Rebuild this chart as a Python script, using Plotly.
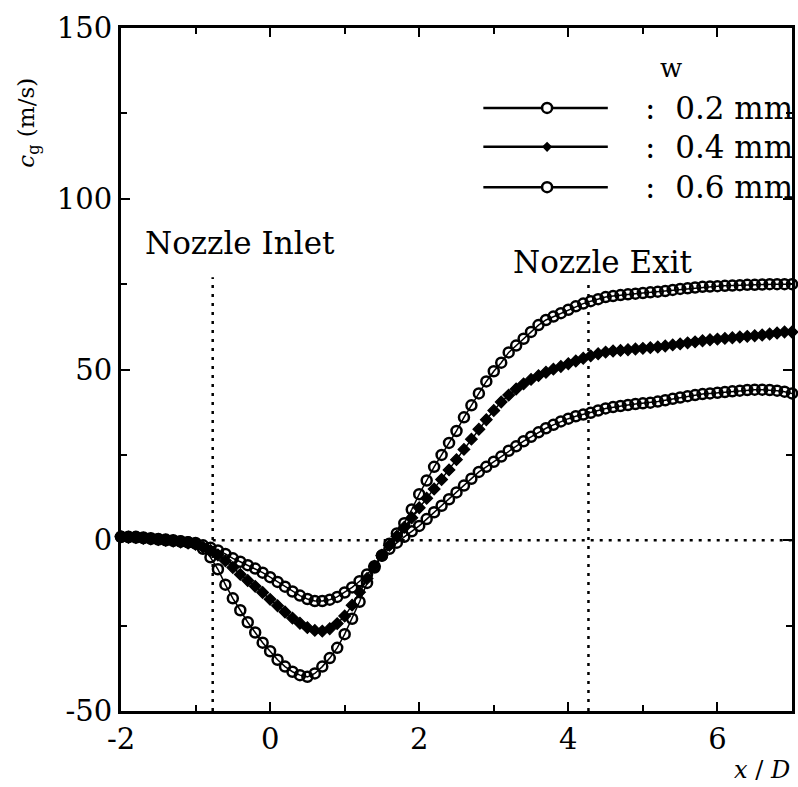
import numpy as np
import plotly.graph_objects as go

# ---------------- data ----------------
x_over_D = [round(v, 1) for v in np.arange(-2.0, 7.001, 0.1)]

w_labels = ["0.2 mm", "0.4 mm", "0.6 mm"]

cg_06 = [1.0, 1.0, 1.0, 0.8, 0.6, 0.4, 0.2, 0.0, -0.3, -0.6,
         -1.0, -2.5, -5.0, -8.5, -13.0, -17.0, -20.5, -24.0, -27.0, -30.0,
         -32.5, -35.0, -37.0, -38.5, -39.5, -40.0, -39.0, -37.0, -34.5, -31.5,
         -27.5, -23.0, -18.0, -12.5, -8.0, -4.5, -1.0, 2.0, 5.0, 9.0,
         13.5, 17.5, 21.5, 25.0, 28.5, 32.0, 36.0, 39.5, 43.0, 46.5,
         49.5, 52.0, 55.0, 57.0, 59.0, 61.0, 63.0, 64.5, 65.5, 66.5,
         67.5, 68.5, 69.3, 70.0, 70.6, 71.2, 71.5, 71.8, 72.0, 72.2,
         72.4, 72.6, 72.8, 73.0, 73.3, 73.6, 73.8, 74.0, 74.2, 74.3,
         74.4, 74.5, 74.6, 74.7, 74.8, 74.8, 74.9, 75.0, 75.0, 75.0,
         75.0]

cg_04 = [1.0, 0.9, 0.8, 0.6, 0.4, 0.2, 0.0, -0.2, -0.5, -0.8,
         -1.2, -2.0, -3.0, -4.3, -6.0, -8.0, -10.0, -11.8, -13.5, -15.3,
         -17.3, -19.2, -21.0, -22.8, -24.3, -25.6, -26.4, -26.6, -25.9, -24.4,
         -22.2, -19.0, -15.2, -11.2, -7.6, -4.4, -1.5, 1.2, 3.8, 6.6,
         9.5, 12.3, 15.0, 17.8, 20.6, 23.6, 26.6, 29.6, 32.5, 35.3,
         38.0, 40.5, 42.5, 44.3, 45.8, 47.1, 48.2, 49.2, 50.1, 50.9,
         51.7, 52.5, 53.3, 54.0, 54.6, 55.1, 55.4, 55.6, 55.8, 56.0,
         56.2, 56.4, 56.6, 56.9, 57.2, 57.5, 57.8, 58.1, 58.4, 58.7,
         58.9, 59.1, 59.3, 59.5, 59.7, 59.9, 60.1, 60.4, 60.7, 61.0,
         61.0]

cg_02 = [1.0, 0.9, 0.8, 0.6, 0.4, 0.2, 0.0, -0.2, -0.4, -0.6,
         -0.8, -1.5, -2.2, -3.0, -4.0, -5.3, -6.3, -7.3, -8.3, -9.5,
         -10.8, -12.2, -13.6, -15.0, -16.2, -17.2, -17.8, -17.8, -17.4, -16.6,
         -15.3, -13.8, -12.0, -10.0, -7.6, -4.5, -2.5, -0.7, 1.0, 2.6,
         4.2, 6.2, 8.2, 10.1, 12.0, 14.0, 16.0, 18.0, 20.0, 21.5,
         23.0, 24.5, 26.2, 27.5, 29.0, 30.3, 31.6, 32.8, 33.8, 34.8,
         35.6, 36.3, 36.8, 37.3, 38.0, 38.6, 39.0, 39.3, 39.6, 39.9,
         40.1, 40.3, 40.6, 41.0, 41.4, 41.8, 42.2, 42.5, 42.8, 43.0,
         43.2, 43.4, 43.6, 43.8, 44.0, 44.1, 44.1, 44.0, 43.8, 43.5,
         43.0]

nozzle_inlet = -0.77
nozzle_exit = 4.27
x_ticks = [-2, 0, 2, 4, 6]
y_ticks = [-50, 0, 50, 100, 150]

# ---------------- figure ----------------
FONT = "DejaVu Serif"
fig = go.Figure()

series = [
    (cg_02, "circle-open", 10, 2.5),
    (cg_04, "diamond", 9, 1.2),
    (cg_06, "circle-open", 10, 2.5),
]
for (yv, sym, sz, lw), name in zip(series, w_labels):
    fig.add_trace(go.Scatter(
        x=x_over_D, y=yv, mode="lines+markers", name=name,
        line=dict(color="black", width=1.5),
        marker=dict(symbol=sym, size=sz, color="black",
                    line=dict(color="black", width=lw)),
        cliponaxis=False, showlegend=False, hoverinfo="skip"))

# reference dotted lines
dot = dict(color="black", width=2.5, dash="3px,6px")
fig.add_shape(type="line", x0=nozzle_inlet, x1=nozzle_inlet, y0=-50, y1=77, line=dot)
fig.add_shape(type="line", x0=nozzle_exit, x1=nozzle_exit, y0=-50, y1=75, line=dot)
fig.add_shape(type="line", x0=nozzle_inlet, x1=7, y0=0, y1=0, line=dot)

fig.add_annotation(x=-0.40, y=87, text="Nozzle Inlet", showarrow=False,
                   xanchor="center", yanchor="middle",
                   font=dict(family=FONT, size=31, color="black"))
fig.add_annotation(x=4.46, y=81.5, text="Nozzle Exit", showarrow=False,
                   xanchor="center", yanchor="middle",
                   font=dict(family=FONT, size=31, color="black"))

# hand-drawn legend (paper coords)
fig.add_annotation(xref="paper", yref="paper", x=0.819, y=0.942, text="w",
                   xanchor="center", yanchor="middle",
                   showarrow=False, font=dict(family=FONT, size=26, color="black"))
leg_y = [0.883, 0.826, 0.767]
leg_sym = ["circle", "diamond", "circle"]
for ly, name, sym in zip(leg_y, w_labels, leg_sym):
    fig.add_shape(type="line", xref="paper", yref="paper", x0=0.540, x1=0.7255,
                  y0=ly, y1=ly, line=dict(color="black", width=2.5))
    if sym == "circle":
        fig.add_shape(type="circle", xref="paper", yref="paper",
                      xsizemode="pixel", ysizemode="pixel",
                      xanchor=0.635, yanchor=ly, x0=-5, x1=5, y0=-5, y1=5,
                      line=dict(color="black", width=2.5), fillcolor="white")
    else:
        fig.add_shape(type="path", xref="paper", yref="paper",
                      xsizemode="pixel", ysizemode="pixel",
                      xanchor=0.635, yanchor=ly,
                      path="M -4 0 L 0 -4 L 4 0 L 0 4 Z",
                      line=dict(color="black", width=1.5), fillcolor="black")
    fig.add_annotation(xref="paper", yref="paper", x=1.005, y=ly,
                       xanchor="right", yanchor="middle",
                       text=":  " + name, showarrow=False,
                       font=dict(family=FONT, size=31, color="black"))

# axis titles
fig.add_annotation(xref="paper", yref="paper", x=1.0, y=-0.087,
                   xanchor="right", yanchor="middle",
                   text="<i>x</i> / <i>D</i>", showarrow=False,
                   font=dict(family=FONT, size=24, color="black"))
fig.add_annotation(xref="paper", yref="paper", x=-0.138, y=0.862, textangle=-90,
                   xanchor="center", yanchor="middle",
                   text="<i>c</i><sub>g</sub> (m/s)", showarrow=False,
                   font=dict(family=FONT, size=23, color="black"))

axis_common = dict(showgrid=False, zeroline=False, showline=True, linecolor="black",
                   linewidth=3, mirror="ticks", ticks="inside", ticklen=9,
                   tickwidth=2, tickcolor="black",
                   tickfont=dict(family=FONT, size=29, color="black"))

fig.update_xaxes(range=[-2, 7], tickvals=x_ticks, ticktext=[str(v) for v in x_ticks],
                 minor=dict(dtick=1, tick0=-1, ticks="inside", ticklen=6,
                            tickwidth=2, tickcolor="black"),
                 **axis_common)
fig.update_yaxes(range=[-50, 150], tickvals=y_ticks, ticktext=[str(v) for v in y_ticks],
                 minor=dict(dtick=25, tick0=-25, ticks="inside", ticklen=6,
                            tickwidth=2, tickcolor="black"),
                 **axis_common)

fig.update_layout(width=798, height=787,
                  margin=dict(l=121, r=3, t=28, b=76),
                  paper_bgcolor="white", plot_bgcolor="white",
                  hovermode=False,
                  font=dict(family=FONT, color="black"))

fig.write_html("out.html",
               config={"displayModeBar": False, "staticPlot": True},
               post_script="document.body.style.margin='0';document.body.style.overflow='hidden';")
